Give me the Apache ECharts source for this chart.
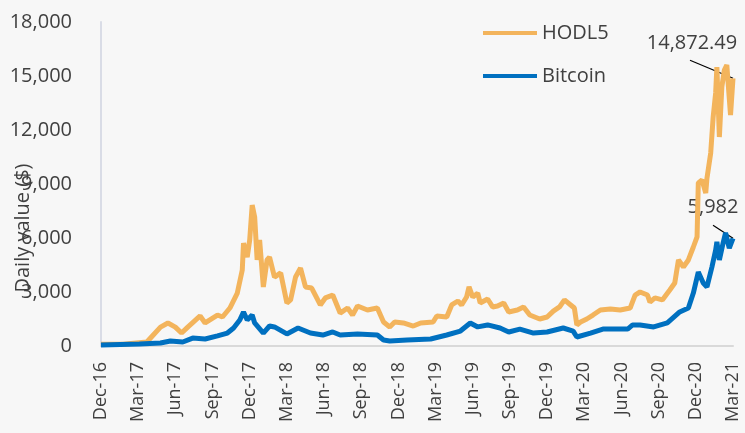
<!DOCTYPE html>
<html>
<head>
<meta charset="utf-8">
<script src="https://cdn.jsdelivr.net/npm/echarts@6/dist/echarts.min.js"></script>
<style>
  html, body { margin: 0; padding: 0; background: #f7f7f7; }
  #chart { width: 745px; height: 433px; }
</style>
</head>
<body>
<div id="chart"></div>
<script>
// x = months since Dec-16
var hodlMonths = [0.0, 1.8, 3.7, 4.2, 4.8, 5.4, 6.0, 6.5, 7.0, 8.0, 8.4, 9.4, 9.8, 10.4, 11.0, 11.4, 11.5, 11.8, 12.0, 12.2,
  12.4, 12.6, 12.8, 13.1, 13.4, 13.6, 14.0, 14.5, 15.0, 15.3, 15.7, 16.1, 16.5, 17.0, 17.7, 18.1, 18.7, 19.3, 19.9, 20.3,
  20.7, 21.5, 22.3, 22.8, 23.3, 23.7, 24.4, 25.2, 25.8, 26.8, 27.1, 27.9, 28.3, 28.8, 29.1, 29.5, 29.7, 30.0, 30.4, 30.6,
  31.2, 31.6, 32.0, 32.5, 32.9, 33.6, 34.1, 34.6, 35.4, 36.0, 36.5, 37.0, 37.4, 37.9, 38.2, 38.4, 38.7, 39.2, 39.7, 40.3,
  41.1, 41.9, 42.7, 43.1, 43.5, 44.1, 44.3, 44.7, 45.3, 45.9, 46.3, 46.6, 47.0, 47.4, 47.8, 48.1, 48.2, 48.5, 48.8, 48.9,
  49.2, 49.4, 49.6, 49.7, 49.9, 50.1, 50.3, 50.5, 50.8, 51.0];
var hodlValues = [100, 100, 220, 600, 1050, 1280, 1050, 720, 1050, 1670, 1280, 1720, 1610, 2110, 2940, 4220, 5720, 4940, 5890, 7830,
  7170, 4780, 5890, 3280, 4780, 4940, 3830, 4060, 2390, 2560, 3830, 4330, 3280, 3220, 2280, 2670, 2830, 1830, 2110, 1720,
  2220, 2000, 2110, 1330, 1060, 1330, 1280, 1110, 1280, 1330, 1670, 1610, 2280, 2500, 2280, 2720, 3280, 2720, 2940, 2390,
  2610, 2170, 2220, 2390, 1890, 2000, 2170, 1720, 1500, 1610, 1940, 2170, 2560, 2280, 2110, 1170, 1330, 1500, 1720, 2000,
  2060, 2000, 2110, 2830, 3000, 2830, 2440, 2670, 2560, 3110, 3500, 4780, 4390, 4780, 5500, 6060, 9060, 9220, 8500, 9330,
  10720, 12720, 14060, 15500, 11610, 14390, 15330, 15610, 12830, 14872.49];

var btcMonths = [0.0, 3.1, 4.8, 5.6, 6.6, 7.4, 8.4, 9.4, 10.2, 10.7, 11.2, 11.5, 11.8, 12.2, 12.4, 13.1, 13.6, 14.0, 15.0, 15.9,
  16.9, 17.9, 18.7, 19.3, 20.7, 22.3, 22.8, 23.3, 24.7, 26.6, 27.9, 29.0, 29.8, 30.4, 31.2, 32.2, 32.9, 33.8, 34.9, 36.0,
  37.3, 38.1, 38.4, 39.5, 40.5, 42.5, 42.9, 43.5, 44.6, 45.7, 46.7, 47.4, 47.8, 48.2, 48.6, 48.9, 49.3, 49.6, 49.7, 49.9,
  50.2, 50.4, 50.7, 51.0];
var btcValues = [50, 110, 170, 280, 220, 440, 390, 560, 720, 1000, 1440, 1890, 1440, 1720, 1280, 720, 1110, 1060, 670, 1000,
  720, 610, 780, 610, 670, 610, 330, 280, 330, 390, 610, 830, 1280, 1060, 1170, 1000, 780, 940, 720, 780,
  1000, 830, 500, 720, 940, 940, 1170, 1170, 1060, 1280, 1890, 2110, 2940, 4110, 3500, 3280, 4390, 5330, 5780, 4780,
  5720, 6280, 5440, 5982];

var monthNames = ['Jan', 'Feb', 'Mar', 'Apr', 'May', 'Jun', 'Jul', 'Aug', 'Sep', 'Oct', 'Nov', 'Dec'];

function zip(xs, ys) {
  return xs.map(function (x, i) { return [x, ys[i]]; });
}

var chart = echarts.init(document.getElementById('chart'));
var textColor = '#404040';
var font = "'Open Sans', 'Noto Sans', sans-serif";

chart.setOption({
  backgroundColor: '#f7f7f7',
  animation: false,
  grid: { left: 101, right: 12, top: 22, bottom: 87, outerBoundsMode: 'none' },
  legend: {
    orient: 'vertical',
    left: 478,
    top: 18,
    icon: 'rect',
    itemWidth: 54,
    itemHeight: 4,
    itemGap: 23,
    textStyle: { color: textColor, fontSize: 20, fontFamily: font, lineHeight: 20 },
    data: ['HODL5', 'Bitcoin']
  },
  xAxis: {
    type: 'value',
    min: 0,
    max: 51,
    interval: 3,
    splitLine: { show: false },
    axisTick: { show: false },
    axisLine: { lineStyle: { color: '#d9d9d9', width: 2 } },
    axisLabel: {
      rotate: 90,
      margin: 16,
      color: textColor,
      fontSize: 18,
      fontFamily: font,
      formatter: function (m) {
        var t = 11 + m;
        return monthNames[t % 12] + '-' + (16 + Math.floor(t / 12));
      }
    }
  },
  yAxis: {
    type: 'value',
    min: 0,
    max: 18000,
    interval: 3000,
    splitLine: { show: false },
    axisTick: { show: false },
    axisLine: { show: true, lineStyle: { color: '#d9dce6', width: 2 } },
    axisLabel: {
      margin: 29,
      color: textColor,
      fontSize: 20,
      fontFamily: font,
      formatter: function (v) { return v.toLocaleString('en-US'); }
    }
  },
  series: [
    {
      name: 'HODL5',
      type: 'line',
      showSymbol: false,
      color: '#f3b45c',
      lineStyle: { width: 5, color: '#f3b45c' },
      data: zip(hodlMonths, hodlValues)
    },
    {
      name: 'Bitcoin',
      type: 'line',
      showSymbol: false,
      color: '#0070c0',
      lineStyle: { width: 5, color: '#0070c0' },
      data: zip(btcMonths, btcValues)
    }
  ]
});

// annotations placed relative to the last point of each series
var lastH = chart.convertToPixel({ gridIndex: 0 }, [hodlMonths[hodlMonths.length - 1], hodlValues[hodlValues.length - 1]]);
var lastB = chart.convertToPixel({ gridIndex: 0 }, [btcMonths[btcMonths.length - 1], btcValues[btcValues.length - 1]]);

chart.setOption({
  graphic: [
    {
      type: 'text', x: lastH[0] - 41, y: lastH[1] - 35,
      style: { text: '14,872.49', fill: textColor, font: '20px ' + font, align: 'center', verticalAlign: 'middle' }
    },
    {
      type: 'line', shape: { x1: lastH[0] - 43, y1: lastH[1] - 18, x2: lastH[0], y2: lastH[1] },
      style: { stroke: '#000', lineWidth: 1.2 }
    },
    {
      type: 'text', x: lastB[0] - 20, y: lastB[1] - 31,
      style: { text: '5,982', fill: textColor, font: '20px ' + font, align: 'center', verticalAlign: 'middle' }
    },
    {
      type: 'line', shape: { x1: lastB[0] - 20, y1: lastB[1] - 13, x2: lastB[0], y2: lastB[1] },
      style: { stroke: '#000', lineWidth: 1.2 }
    },
    {
      type: 'text', x: 23, y: 228, rotation: Math.PI / 2,
      style: { text: 'Daily value ($)', fill: textColor, font: '20px ' + font, align: 'center', verticalAlign: 'middle' }
    }
  ]
});
</script>
</body>
</html>
